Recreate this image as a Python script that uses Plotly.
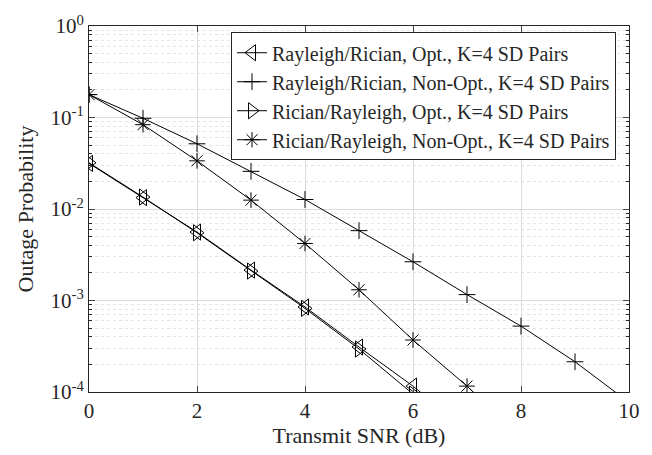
import plotly.graph_objects as go

# ---- data ----
snr_db = [0, 1, 2, 3, 4, 5, 6, 7, 8, 9, 10]

ray_ric_opt = [0.0315, 0.0133, 0.0056, 0.00215, 0.00085, 0.00031, 0.000116, 0.000038]
ray_ric_nonopt = [0.178, 0.098, 0.0516, 0.0258, 0.0127, 0.0058, 0.00265, 0.00116, 0.000525, 0.000214, 0.000077]
ric_ray_opt = [0.032, 0.0135, 0.0055, 0.0021, 0.00082, 0.000295, 0.000095]
ric_ray_nonopt = [0.178, 0.0835, 0.0336, 0.0125, 0.0042, 0.00131, 0.00037, 0.000116, 0.000033]

names = [
    "Rayleigh/Rician, Opt., K=4 SD Pairs",
    "Rayleigh/Rician, Non-Opt., K=4 SD Pairs",
    "Rician/Rayleigh, Opt., K=4 SD Pairs",
    "Rician/Rayleigh, Non-Opt., K=4 SD Pairs",
]
series = [ray_ric_opt, ray_ric_nonopt, ric_ray_opt, ric_ray_nonopt]
symbols = ["triangle-left-open", "cross-thin-open", "triangle-right-open", "asterisk-open"]
sizes = [14, 12, 14, 13]

y_major = [1e-4, 1e-3, 1e-2, 1e-1, 1e0]
y_major_text = ["10<sup>-4</sup>", "10<sup>-3</sup>", "10<sup>-2</sup>", "10<sup>-1</sup>", "10<sup>0</sup>"]
y_minor = [m * 10.0 ** e for e in range(-4, 0) for m in range(2, 10)]
x_ticks = [0, 2, 4, 6, 8, 10]

FONT = "Liberation Serif"
TXT = "#262626"

fig = go.Figure()
for name, ys, sym, sz in zip(names, series, symbols, sizes):
    fig.add_trace(go.Scatter(
        x=snr_db[:len(ys)], y=ys, name=name, mode="lines+markers",
        line=dict(color="black", width=1),
        marker=dict(symbol=sym, size=sz, color="black",
                    line=dict(color="black", width=1)),
    ))

fig.update_layout(
    width=652, height=455,
    margin=dict(l=89, r=23, t=23, b=60),
    paper_bgcolor="white", plot_bgcolor="white",
    font=dict(family=FONT, size=20, color=TXT),
    showlegend=True,
    legend=dict(
        x=0.263, y=0.983, xanchor="left", yanchor="top",
        bgcolor="white", bordercolor="#262626", borderwidth=1,
        font=dict(family=FONT, size=20, color=TXT),
        tracegroupgap=0, itemwidth=30,
    ),
    xaxis=dict(
        range=[0, 10], tickvals=x_ticks, ticks="inside", ticklen=6,
        showline=True, linecolor="#262626", linewidth=1, mirror="allticks",
        showgrid=True, gridcolor="#dcdcdc", gridwidth=1, zeroline=False,
        title=dict(text="Transmit SNR (dB)", font=dict(family=FONT, size=22), standoff=4),
        tickfont=dict(family=FONT, size=21),
    ),
    yaxis=dict(
        type="log", range=[-4, 0], tickvals=y_major, ticktext=y_major_text,
        ticks="inside", ticklen=6,
        showline=True, linecolor="#262626", linewidth=1, mirror="allticks",
        showgrid=True, gridcolor="#dcdcdc", gridwidth=1, zeroline=False,
        title=dict(text="Outage Probability", font=dict(family=FONT, size=22), standoff=10),
        tickfont=dict(family=FONT, size=21),
        minor=dict(tickvals=y_minor, ticks="inside", ticklen=3,
                   tickcolor="#262626", showgrid=True,
                   gridcolor="#e4e4e4", griddash="dot", gridwidth=1),
    ),
)

fig.write_html("out.html")
